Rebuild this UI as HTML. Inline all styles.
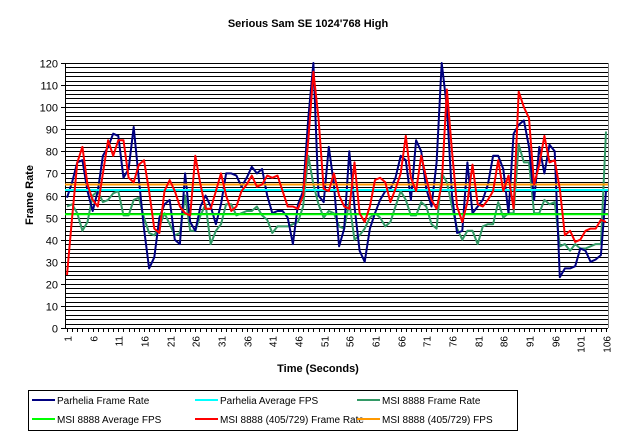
<!DOCTYPE html>
<html><head><meta charset="utf-8"><style>
body{margin:0;background:#fff;}
svg{display:block;font-family:"Liberation Sans",Arial,sans-serif;}
</style></head><body>
<svg id="c" width="623" height="439">
<text x="308" y="27" text-anchor="middle" font-size="11" font-weight="bold">Serious Sam SE 1024'768 High</text>
<g id="grid"></g>
<g id="yaxis"></g>
<g id="xaxis"></g>
<g id="series"></g>
<text transform="translate(33,195) rotate(-90)" text-anchor="middle" font-size="11" font-weight="bold">Frame Rate</text>
<text x="318" y="372" text-anchor="middle" font-size="11" font-weight="bold">Time (Seconds)</text>
<g font-size="10">
<rect x="28.5" y="390.5" width="489" height="40" fill="none" stroke="#000"/>
<g><line x1="32" y1="400" x2="55" y2="400" stroke="#000080" stroke-width="2"/><text x="57" y="404">Parhelia Frame Rate</text></g>
<g><line x1="195" y1="400" x2="218" y2="400" stroke="#00ffff" stroke-width="2"/><text x="220" y="404">Parhelia Average FPS</text></g>
<g><line x1="357" y1="400" x2="380" y2="400" stroke="#339966" stroke-width="2"/><text x="382" y="404">MSI 8888 Frame Rate</text></g>
<g><line x1="32" y1="419" x2="55" y2="419" stroke="#00ff00" stroke-width="2"/><text x="57" y="423">MSI 8888 Average FPS</text></g>
<g><line x1="195" y1="419" x2="218" y2="419" stroke="#ff0000" stroke-width="2"/><text x="220" y="423">MSI 8888 (405/729) Frame Rate</text></g>
<g><line x1="357" y1="419" x2="380" y2="419" stroke="#ff9900" stroke-width="2"/><text x="382" y="423">MSI 8888 (405/729) FPS</text></g>
</g>
</svg>
<script>
const parhelia=[59,66,75,76,62,53,62,78,82,88,87,68,72,91,67,45,27,32,50,56,58,40,38,70,48,44,55,60,55,47,56,70,70,69,64,68,73,70,72,60,52,53,53,50,38,56,62,95,120,60,57,82,65,37,45,80,55,35,30,45,52,58,62,63,68,78,76,58,85,80,63,55,75,120,100,60,43,44,75,52,55,58,65,78,78,72,52,88,92,94,82,58,82,70,83,80,23,27,27,28,36,35,30,31,33,62];
const msi=[55,56,52,44,48,60,62,57,58,61,62,51,51,58,59,50,43,42,46,52,47,42,43,60,44,44,51,56,38,44,47,56,56,51,52,53,53,55,51,49,43,46,46,46,47,48,55,78,65,56,50,53,52,46,45,57,40,42,45,50,52,50,46,48,55,62,58,51,51,57,55,47,45,70,66,55,45,40,44,44,38,46,47,47,57,50,52,52,83,75,75,52,52,58,56,57,37,38,35,38,36,36,37,38,38,89];
const msiOC=[24,50,75,82,65,58,55,70,85,78,85,85,68,66,74,76,62,45,43,62,67,62,55,52,51,78,65,54,54,62,70,60,53,55,62,65,69,64,65,69,68,69,62,55,55,54,60,85,116,95,63,62,70,60,55,54,75,52,48,55,67,68,66,57,63,70,87,68,62,78,68,58,54,65,108,80,55,48,57,74,56,55,58,62,76,62,69,54,107,100,95,65,74,87,75,76,63,42,44,39,40,44,45,45,49,48];
const averages=[62.5,51.5,65];
const yTicks=[0,10,20,30,40,50,60,70,80,90,100,110,120];
const NS="http://www.w3.org/2000/svg";
const L=65,R=608,T=63,B=328,N=106;
const y=v=>B-(v/120)*(B-T);
const x=i=>67+(i)*(606-67)/(N-1);
function mk(tag,attrs,parent){const e=document.createElementNS(NS,tag);for(const k in attrs)e.setAttribute(k,attrs[k]);parent.appendChild(e);return e;}
const grid=document.getElementById('grid'),ya=document.getElementById('yaxis'),xa=document.getElementById('xaxis'),sg=document.getElementById('series');
for(let v=0;v<=120;v+=2){const yy=Math.round(y(v))+0.5;const g=mk('line',{x1:L,x2:R,y1:yy,y2:yy,stroke:'#000','stroke-width':1},grid);

}
mk('line',{x1:R+0.5,x2:R+0.5,y1:T,y2:B,stroke:'#808080'},grid);
mk('line',{x1:L+0.5,x2:L+0.5,y1:T,y2:B+1,stroke:'#000'},ya);
yTicks.forEach(v=>{const yy=Math.round(y(v))+0.5;mk('line',{x1:L-4,x2:L,y1:yy,y2:yy,stroke:'#000'},ya);
const t=mk('text',{x:L-7,y:yy+4,'text-anchor':'end','font-size':11},ya);t.textContent=v;

});
for(let i=0;i<N;i++){const xx=Math.round(x(i))+0.5;mk('line',{x1:xx,x2:xx,y1:B,y2:B+4,stroke:'#000'},xa);
if(i%5===0){const t=mk('text',{transform:`translate(${xx+4},${B+8}) rotate(-90)`,'text-anchor':'end','font-size':10},xa);t.textContent=i+1;

}}
function line(data,color,name){const p=mk('polyline',{points:data.map((v,i)=>x(i).toFixed(1)+','+y(v).toFixed(1)).join(' '),fill:'none',stroke:color,'stroke-width':2,'stroke-linejoin':'round'},sg);

}
function avg(v,color,name){const l=mk('line',{x1:L,x2:R,y1:y(v),y2:y(v),stroke:color,'stroke-width':2},sg);

}
line(msi,'#339966','msi-frame-rate-line');
line(parhelia,'#000080','parhelia-frame-rate-line');
avg(averages[0],'#00ffff','parhelia-average-line');
avg(averages[1],'#00ff00','msi-average-line');
avg(averages[2],'#ff9900','msi-oc-average-line');
line(msiOC,'#ff0000','msi-oc-frame-rate-line');
</script>
</body></html>
